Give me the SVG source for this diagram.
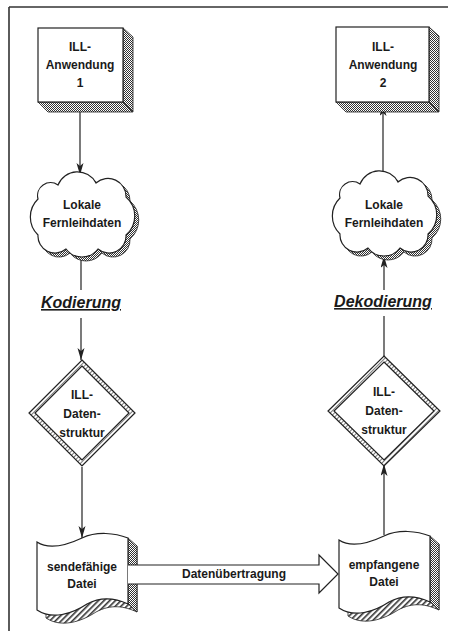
<svg xmlns="http://www.w3.org/2000/svg" width="452" height="631" viewBox="0 0 452 631">
<defs>
<style>
.ln{stroke:#222;stroke-width:1.2;fill:none}
.fr{stroke:#333;stroke-width:1.6;fill:none}
.face{fill:#fff;stroke:#222;stroke-width:1.2}
.chk{fill:url(#checker);stroke:#222;stroke-width:0.8}
.hat{fill:url(#hatch);stroke:#222;stroke-width:0.8}
.t{font-family:"Liberation Sans",Arial,sans-serif;font-size:12px;font-weight:bold;fill:#1a1a1a;text-anchor:middle}
.lbl{font-family:"Liberation Sans",Arial,sans-serif;font-size:16px;font-weight:bold;font-style:italic;fill:#1a1a1a;text-anchor:middle;text-decoration:underline}
</style>
<pattern id="checker" width="2" height="2" patternUnits="userSpaceOnUse">
<rect width="2" height="2" fill="#fff"/>
<rect width="1" height="1" fill="#333"/>
<rect x="1" y="1" width="1" height="1" fill="#333"/>
</pattern>
<pattern id="hatch" width="4" height="4" patternUnits="userSpaceOnUse" patternTransform="rotate(45)">
<rect width="4" height="4" fill="#fff"/>
<rect width="1.6" height="4" fill="#333"/>
</pattern>
<pattern id="dhatch" width="3" height="3" patternUnits="userSpaceOnUse" patternTransform="rotate(45)">
<rect width="3" height="3" fill="#fff"/>
<rect width="1" height="3" fill="#777"/>
</pattern>
<marker id="arr" markerUnits="userSpaceOnUse" markerWidth="13" markerHeight="8" refX="12" refY="3.5" orient="auto">
<path d="M0,0 L12,3.5 L0,7 L3,3.5 Z" fill="#222"/>
</marker>
<path id="cloud" d="M -44,-16 A 13,13 0 0 1 -24,-30 A 21,21 0 0 1 14,-32 A 18,18 0 0 1 44,-18 A 25,25 0 0 1 44,20 A 17,17 0 0 1 16,34 A 20,20 0 0 1 -16,34 A 17,17 0 0 1 -44,20 A 25,25 0 0 1 -44,-16 Z"/>
<path id="doc" d="M0,0 C 12,8 28,4 45,-4 C 60,-11 78,-9 91,-4 L 91,62 C 78,56 65,54 50,62 C 35,72 15,78 0,68 Z"/>
</defs>

<g id="frame">
<line class="fr" x1="9" y1="7" x2="448" y2="7"/>
<line class="fr" x1="9" y1="7" x2="9" y2="631"/>
</g>

<g id="connectors">
<line class="ln" x1="80" y1="102" x2="80" y2="175" marker-end="url(#arr)"/>
<line class="ln" x1="81" y1="256" x2="81" y2="290"/>
<line class="ln" x1="81" y1="318" x2="81" y2="360" marker-end="url(#arr)"/>
<line class="ln" x1="82" y1="467" x2="82" y2="538" marker-end="url(#arr)"/>
<line class="ln" x1="384" y1="535" x2="384" y2="464" marker-end="url(#arr)"/>
<line class="ln" x1="384" y1="357" x2="384" y2="316"/>
<line class="ln" x1="384" y1="290" x2="384" y2="256" marker-end="url(#arr)"/>
<line class="ln" x1="383" y1="173" x2="383" y2="104" marker-end="url(#arr)"/>
</g>

<g id="app1">
<polygon class="chk" points="123,28 133,37 133,112 123,102"/>
<polygon class="chk" points="38,102 123,102 133,112 48,112"/>
<rect class="face" x="38" y="28" width="85" height="74"/>
<text class="t" x="80" y="51">ILL-</text>
<text class="t" x="80" y="69">Anwendung</text>
<text class="t" x="80" y="87">1</text>
</g>

<g id="app2">
<polygon class="chk" points="429,27 439,36 439,112 429,102"/>
<polygon class="chk" points="336,102 429,102 439,112 346,112"/>
<rect class="face" x="336" y="27" width="93" height="75"/>
<text class="t" x="383" y="51">ILL-</text>
<text class="t" x="383" y="69">Anwendung</text>
<text class="t" x="383" y="87">2</text>
</g>

<g id="cloud1" transform="translate(82,215)">
<use href="#cloud" transform="translate(4,4)" fill="url(#checker)" stroke="#222" stroke-width="0.8"/>
<use href="#cloud" fill="#fff" stroke="#222" stroke-width="1.2"/>
<text class="t" x="0" y="-6">Lokale</text>
<text class="t" x="0" y="12">Fernleihdaten</text>
</g>

<g id="cloud2" transform="translate(384,214)">
<use href="#cloud" transform="translate(4,4)" fill="url(#checker)" stroke="#222" stroke-width="0.8"/>
<use href="#cloud" fill="#fff" stroke="#222" stroke-width="1.2"/>
<text class="t" x="0" y="-5">Lokale</text>
<text class="t" x="0" y="13">Fernleihdaten</text>
</g>

<g id="kodierung">
<text class="lbl" x="81" y="308">Kodierung</text>
</g>
<g id="dekodierung">
<text class="lbl" x="383" y="307">Dekodierung</text>
</g>

<g id="struct1">
<polygon points="82,360 135,413 82,466 29,413" fill="url(#dhatch)" stroke="#222" stroke-width="1.2"/>
<polygon points="82,366 129,413 82,460 35,413" fill="#fff" stroke="#222" stroke-width="1.2"/>
<text class="t" x="82" y="399">ILL-</text>
<text class="t" x="82" y="418">Daten-</text>
<text class="t" x="82" y="437">struktur</text>
</g>

<g id="struct2">
<polygon points="384,356 440,411 384,466 328,411" fill="url(#dhatch)" stroke="#222" stroke-width="1.2"/>
<polygon points="384,362 434,411 384,460 334,411" fill="#fff" stroke="#222" stroke-width="1.2"/>
<text class="t" x="384" y="396">ILL-</text>
<text class="t" x="384" y="415">Daten-</text>
<text class="t" x="384" y="434">struktur</text>
</g>

<g id="file1" transform="translate(37,542)">
<use href="#doc" transform="translate(9,8)" class="hat"/>
<polygon class="chk" points="91,-4 100,4 100,70 91,62"/>
<use href="#doc" class="face"/>
<text class="t" x="45" y="29">sendefähige</text>
<text class="t" x="45" y="46">Datei</text>
</g>

<g id="file2" transform="translate(339,540)">
<use href="#doc" transform="translate(9,8)" class="hat"/>
<polygon class="chk" points="91,-4 100,4 100,70 91,62"/>
<use href="#doc" class="face"/>
<text class="t" x="45" y="29">empfangene</text>
<text class="t" x="45" y="46">Datei</text>
</g>

<g id="transfer">
<polygon points="128,565 319,565 319,555 338,574 319,593 319,584 128,584" fill="#fff"/>
<path class="ln" d="M128,565 L319,565 L319,555 L338,574 L319,593 L319,584 L128,584"/>
<text class="t" x="234" y="578">Datenübertragung</text>
</g>
</svg>
